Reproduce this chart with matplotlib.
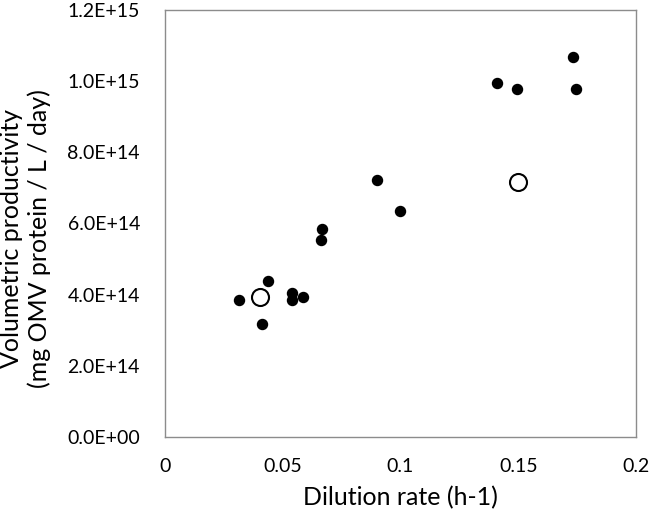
import numpy as np
import matplotlib
matplotlib.use('Agg')
import matplotlib.pyplot as plt
from matplotlib.ticker import FuncFormatter

plt.rcParams['font.family'] = ['Lato', 'DejaVu Sans']

# filled points: dilution rate (h-1) and volumetric productivity
rate_filled = [0.0314, 0.0413, 0.0439, 0.0538, 0.0538, 0.0587, 0.0661, 0.0668,
               0.0899, 0.0998, 0.1408, 0.1496, 0.1731, 0.1744]
prod_filled = [3.85e14, 3.18e14, 4.39e14, 4.04e14, 3.85e14, 3.94e14, 5.54e14, 5.85e14,
               7.22e14, 6.36e14, 9.94e14, 9.77e14, 1.067e15, 9.77e14]

# open points
rate_open = [0.0402, 0.150]
prod_open = [3.94e14, 7.17e14]

x_ticks = [0, 0.05, 0.1, 0.15, 0.2]
x_labels = ['0', '0.05', '0.1', '0.15', '0.2']
y_ticks = [0, 2e14, 4e14, 6e14, 8e14, 1e15, 1.2e15]

fig = plt.figure(figsize=(6.5, 5.2), dpi=100)
ax = fig.add_axes([0.2538, 0.1596, 0.7247, 0.8212])

ax.scatter(rate_filled, prod_filled, s=52, color='black', zorder=3)
ax.scatter(rate_open, prod_open, s=150, facecolor='white', edgecolor='black',
           linewidth=1.5, zorder=3)

ax.set_xlim(0, 0.2)
ax.set_ylim(0, 1.2e15)
ax.set_xticks(x_ticks)
ax.set_xticklabels(x_labels)
ax.set_yticks(y_ticks)
ax.yaxis.set_major_formatter(FuncFormatter(lambda v, p: '%.1E' % v))
ax.tick_params(length=0, labelsize=14, pad=15)
ax.tick_params(axis='y', pad=18)

for s in ax.spines.values():
    s.set_color('#8c8c8c')
    s.set_linewidth(1)

ax.set_xlabel('Dilution rate (h-1)', fontsize=18, labelpad=8)
fig.text(0.0, 0.542, 'Volumetric productivity\n(mg OMV protein / L / day)',
         rotation=90, fontsize=18, ha='left', va='center',
         multialignment='center', linespacing=1.25)

fig.savefig('out.png', dpi=100)
